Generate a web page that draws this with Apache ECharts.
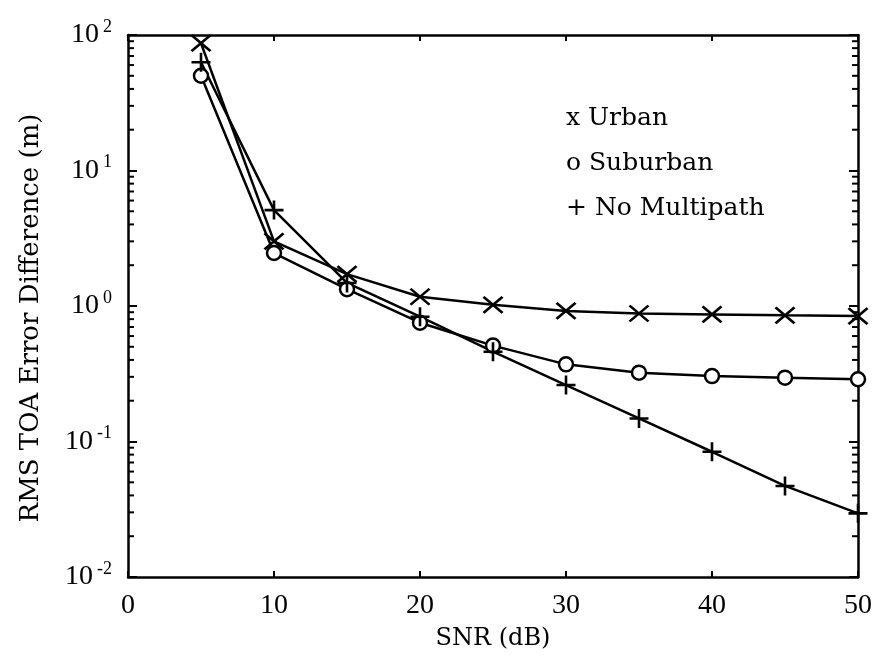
<!DOCTYPE html>
<html><head><meta charset="utf-8">
<script src="https://cdn.jsdelivr.net/npm/echarts@6/dist/echarts.min.js"></script>
<style>html,body{margin:0;padding:0;background:#fff}#c{width:875px;height:660px}</style>
</head><body><div id="c"></div>
<script>
const snr = [5, 10, 15, 20, 25, 30, 35, 40, 45, 50];
const urban = [87, 3.0, 1.72, 1.17, 1.02, 0.92, 0.88, 0.867, 0.853, 0.843];
const suburban = [50, 2.46, 1.33, 0.753, 0.51, 0.371, 0.322, 0.304, 0.296, 0.288];
const noMultipath = [63, 5.1, 1.48, 0.834, 0.46, 0.261, 0.148, 0.084, 0.047, 0.0295];
const legendLabels = { 'Urban': 'x Urban', 'Suburban': 'o Suburban', 'No Multipath': '+ No Multipath' };
const minorTicks = [];
[0.01, 0.1, 1, 10].forEach(d => { for (let k = 2; k <= 9; k++) minorTicks.push(+(d * k).toPrecision(3)); });

const tickFont = 'Liberation Serif';
const textFont = 'DejaVu Serif';
const pair = arr => snr.map((x, i) => [x, arr[i]]);
const chart = echarts.init(document.getElementById('c'));
const lineStyle = { color: '#000', width: 2.5 };
const axisLine = { show: true, onZero: false, lineStyle: { color: '#000', width: 2.5 } };
chart.setOption({
  backgroundColor: '#fff',
  animation: false,
  grid: { left: 128, right: 15, top: 35, bottom: 83 },
  legend: {
    data: ['Urban', 'Suburban', 'No Multipath'],
    orient: 'vertical', left: 556, top: 98, icon: 'none', itemWidth: 0, itemHeight: 10, itemGap: 15,
    selectedMode: false,
    formatter: n => legendLabels[n],
    textStyle: { fontFamily: textFont, fontSize: 25, lineHeight: 30, color: '#000' }
  },
  xAxis: [{
    type: 'value', min: 0, max: 50, interval: 10,
    name: 'SNR (dB)', nameLocation: 'middle', nameGap: 50,
    nameTextStyle: { fontFamily: textFont, fontSize: 24, color: '#000' },
    axisLine: axisLine,
    axisTick: { inside: true, length: 6, lineStyle: { color: '#000', width: 2 } },
    axisLabel: { fontFamily: tickFont, fontSize: 28, color: '#000', margin: 15 },
    splitLine: { show: false }
  }, {
    type: 'value', min: 0, max: 50, interval: 10, position: 'top',
    axisLine: axisLine,
    axisTick: { inside: true, length: 6, lineStyle: { color: '#000', width: 2 } },
    axisLabel: { show: false }, splitLine: { show: false }
  }],
  yAxis: [{
    type: 'log', logBase: 10, min: 0.01, max: 100,
    name: 'RMS TOA Error Difference (m)', nameLocation: 'middle', nameGap: 84,
    nameTextStyle: { fontFamily: textFont, fontSize: 26, color: '#000', padding: [0, 24, 0, 0] },
    axisLine: axisLine,
    axisTick: { inside: true, length: 9, lineStyle: { color: '#000', width: 2 } },
    axisLabel: {
      margin: 16,
      formatter: v => '{b|10}{s|' + Math.round(Math.log10(v)) + '}',
      rich: {
        b: { fontFamily: tickFont, fontSize: 28, color: '#000' },
        s: { fontFamily: tickFont, fontSize: 18, color: '#000', verticalAlign: 'bottom', padding: [0, 0, 16, 4] }
      }
    },
    splitLine: { show: false }
  }, {
    type: 'log', logBase: 10, min: 0.01, max: 100, position: 'right',
    axisLine: axisLine,
    axisTick: { inside: true, length: 9, lineStyle: { color: '#000', width: 2 } },
    axisLabel: { show: false }, splitLine: { show: false }
  }],
  series: [
    {
      name: 'Urban', type: 'line', data: pair(urban), color: '#000',
      symbol: 'path://M0,0L10,10M10,0L0,10', symbolSize: [19, 16],
      itemStyle: { color: 'transparent', borderColor: '#000', borderWidth: 2.6 },
      lineStyle: lineStyle
    },
    {
      name: 'Suburban', type: 'line', data: pair(suburban), color: '#000',
      symbol: 'circle', symbolSize: 14,
      itemStyle: { color: '#fff', borderColor: '#000', borderWidth: 2.5 },
      lineStyle: lineStyle
    },
    {
      name: 'No Multipath', type: 'line', data: pair(noMultipath), color: '#000',
      symbol: 'path://M5,0L5,10M0,5L10,5', symbolSize: [19, 19],
      itemStyle: { color: 'transparent', borderColor: '#000', borderWidth: 2.6 },
      lineStyle: lineStyle
    },
    {
      name: 'minor', type: 'custom', silent: true, clip: false,
      data: minorTicks.map(v => [0, v]),
      renderItem: (params, api) => {
        const v = api.value(1);
        const a = api.coord([0, v]);
        const b = api.coord([50, v]);
        return {
          type: 'group', children: [
            { type: 'line', shape: { x1: a[0], y1: a[1], x2: a[0] + 6, y2: a[1] }, style: { stroke: '#000', lineWidth: 2 } },
            { type: 'line', shape: { x1: b[0], y1: b[1], x2: b[0] - 6, y2: b[1] }, style: { stroke: '#000', lineWidth: 2 } }
          ]
        };
      }
    }
  ]
});
</script></body></html>
